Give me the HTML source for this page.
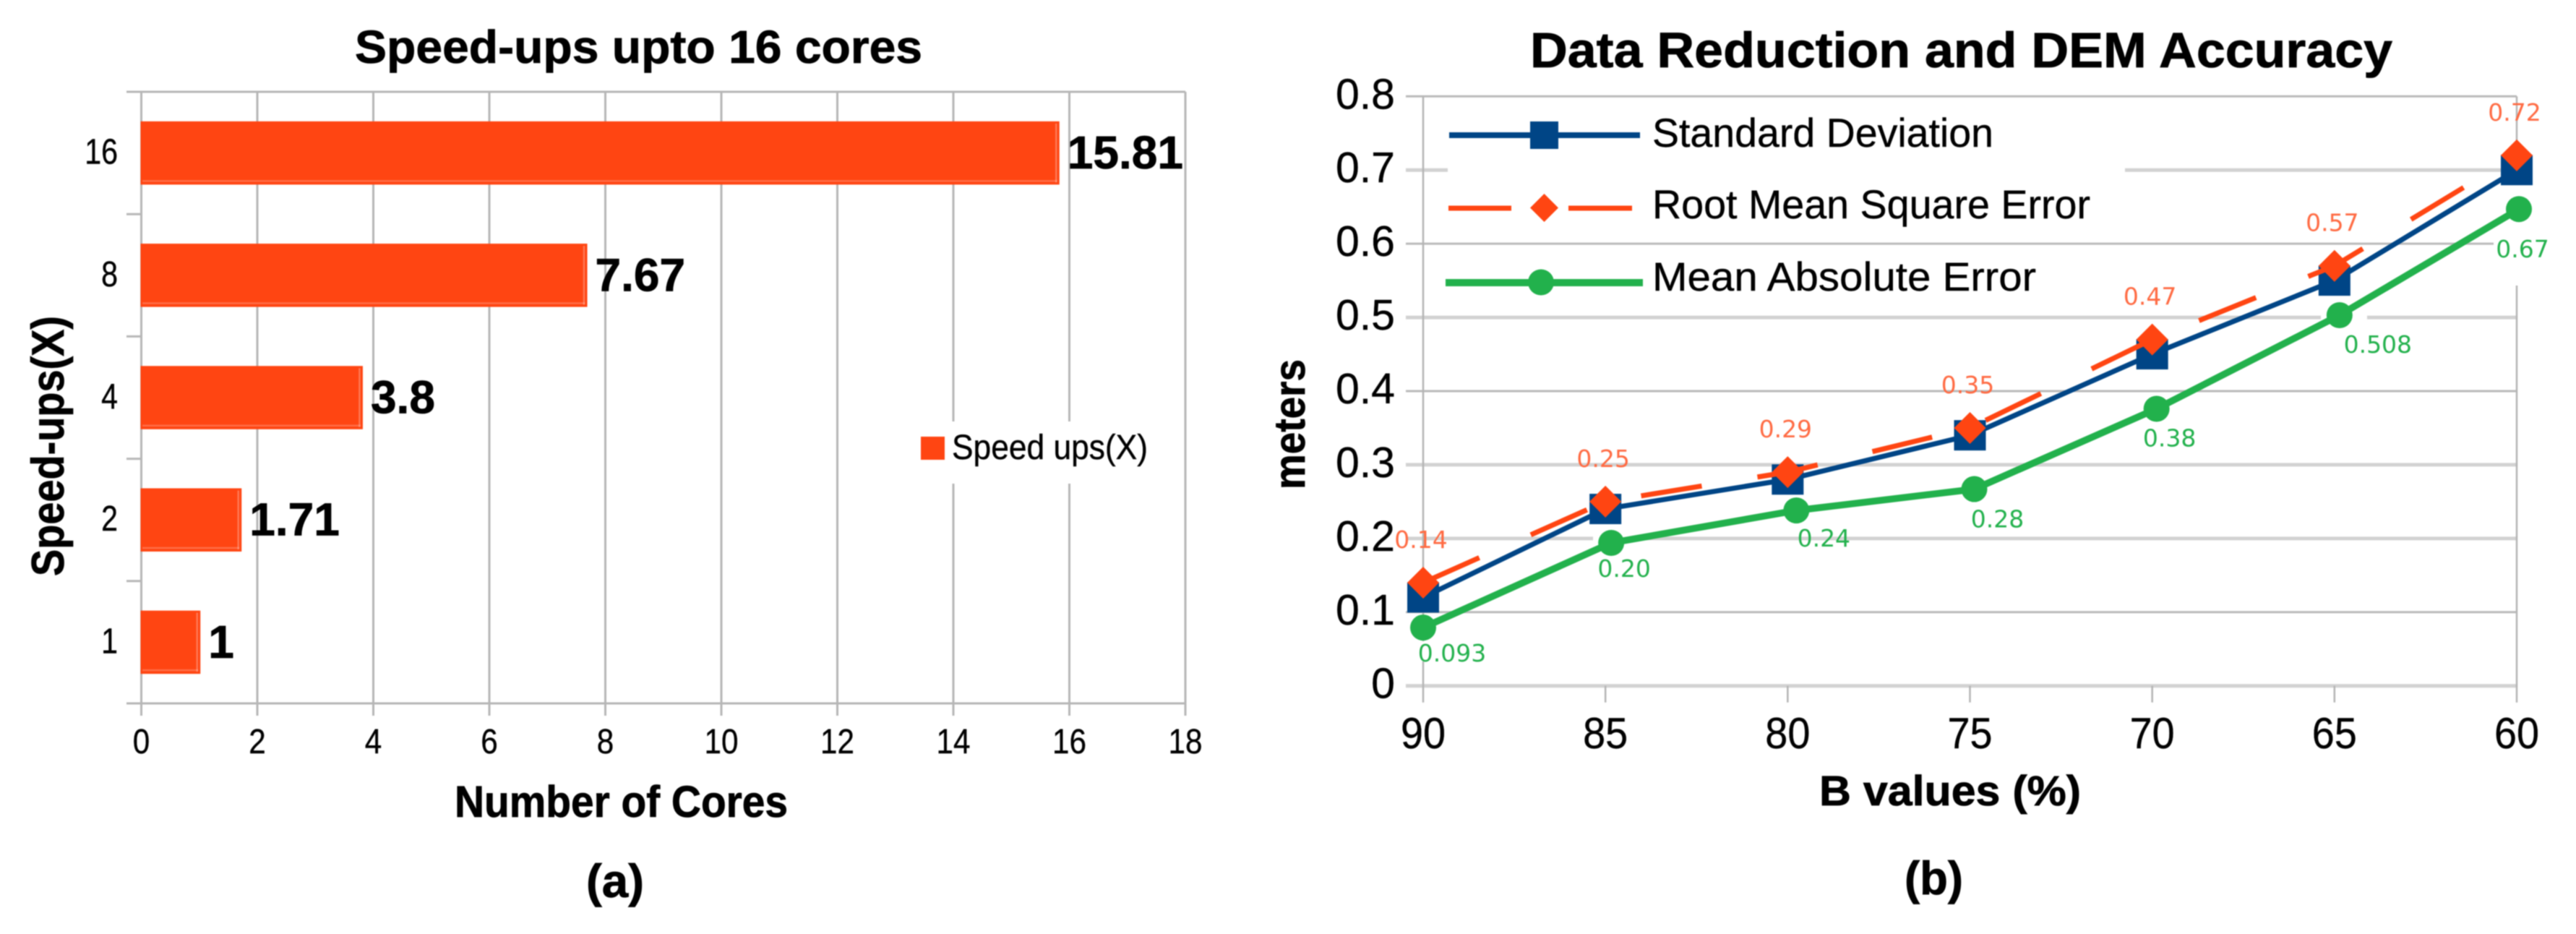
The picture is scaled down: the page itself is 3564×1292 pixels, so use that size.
<!DOCTYPE html>
<html lang="en">
<head>
<meta charset="utf-8">
<title>Speed-ups and DEM accuracy charts</title>
<style>
html,body{margin:0;padding:0;background:#fff;}
svg{display:block;filter:blur(0.8px);}
text{font-family:"Liberation Sans",sans-serif;fill:#000;stroke:#000;stroke-width:0.4px;}
.b{font-weight:700;stroke-width:0.8px;}
.v{font-family:"DejaVu Sans",sans-serif;font-size:33px;stroke:none;}
</style>
</head>
<body>
<svg id="fig" xmlns="http://www.w3.org/2000/svg" width="3564" height="1292" viewBox="0 0 3564 1292">
  <rect width="3564" height="1292" fill="#fff"/>
  <g id="chart-a"></g>
  <g id="chart-b"></g>

  <text class="b" x="491" y="87" font-size="64" textLength="785" lengthAdjust="spacingAndGlyphs">Speed-ups upto 16 cores</text>
  <text class="b" x="629" y="1130" font-size="61" textLength="461" lengthAdjust="spacingAndGlyphs">Number of Cores</text>
  <text class="b" transform="translate(88,797) rotate(-90)" font-size="63" textLength="360" lengthAdjust="spacingAndGlyphs">Speed-ups(X)</text>
  <text class="b" x="811" y="1241" font-size="65" textLength="80" lengthAdjust="spacingAndGlyphs">(a)</text>

  <g>
    <rect x="1274" y="604" width="33" height="32" fill="#ff4512"/>
    <text x="1317" y="635" font-size="48" textLength="271" lengthAdjust="spacingAndGlyphs">Speed ups(X)</text>
  </g>

  <text class="b" x="2117" y="93" font-size="69" textLength="1193" lengthAdjust="spacingAndGlyphs">Data Reduction and DEM Accuracy</text>
  <text class="b" x="2517" y="1114" font-size="58" textLength="362" lengthAdjust="spacingAndGlyphs">B values (%)</text>
  <text class="b" transform="translate(1805,677) rotate(-90)" font-size="60" textLength="180" lengthAdjust="spacingAndGlyphs">meters</text>
  <text class="b" x="2635" y="1237" font-size="65" textLength="81" lengthAdjust="spacingAndGlyphs">(b)</text>

  <g id="legend-b">
    <g>
      <line x1="2005" y1="187" x2="2269" y2="187" stroke="#004586" stroke-width="8"/>
      <rect x="2117" y="168" width="39" height="38" fill="#004586"/>
      <text x="2286" y="203" font-size="56" textLength="472" lengthAdjust="spacingAndGlyphs">Standard Deviation</text>
    </g>
    <g>
      <line x1="2004" y1="288" x2="2091" y2="288" stroke="#ff4512" stroke-width="7"/>
      <line x1="2170" y1="288" x2="2258" y2="288" stroke="#ff4512" stroke-width="7"/>
      <polygon points="2136.5,268 2156,287.5 2136.5,307 2117,287.5" fill="#ff4512"/>
      <text x="2286" y="302" font-size="56" textLength="606" lengthAdjust="spacingAndGlyphs">Root Mean Square Error</text>
    </g>
    <g>
      <line x1="2000" y1="391" x2="2273" y2="391" stroke="#22b14c" stroke-width="10"/>
      <circle cx="2132" cy="390.5" r="18" fill="#22b14c"/>
      <text x="2286" y="402" font-size="56" textLength="531" lengthAdjust="spacingAndGlyphs">Mean Absolute Error</text>
    </g>
  </g>
</svg>

<script>
// Panel (a) data
const coreCategories = ["1", "2", "4", "8", "16"];
const speedups = [1, 1.71, 3.8, 7.67, 15.81];
const speedTicks = [0, 2, 4, 6, 8, 10, 12, 14, 16, 18];

// Panel (b) data
const bValues = ["90", "85", "80", "75", "70", "65", "60"];
const stdDev = [0.12, 0.24, 0.28, 0.34, 0.45, 0.55, 0.70];
const rmse = [0.14, 0.25, 0.29, 0.35, 0.47, 0.57, 0.72];
const mae = [0.079, 0.194, 0.238, 0.267, 0.376, 0.503, 0.647];
const rmseLabels = ["0.14", "0.25", "0.29", "0.35", "0.47", "0.57", "0.72"];
const maeLabels = ["0.093", "0.20", "0.24", "0.28", "0.38", "0.508", "0.67"];
const meterTicks = [0, 0.1, 0.2, 0.3, 0.4, 0.5, 0.6, 0.7, 0.8];

const NS = "http://www.w3.org/2000/svg";
function make(parent, tag, attrs, txt) {
  const el = document.createElementNS(NS, tag);
  for (const k in attrs) el.setAttribute(k, attrs[k]);
  if (txt !== undefined) el.textContent = txt;
  parent.appendChild(el);
  return el;
}

/* ---------- Panel (a) ---------- */
(function () {
  const g = document.getElementById("chart-a");
  const GRID = "#b6b6b6";
  const left = 195.5, right = 1640, top = 127, bottom = 973;
  const maxX = speedTicks[speedTicks.length - 1];
  const xPos = v => left + (v / maxX) * (right - left);
  const band = (bottom - top) / coreCategories.length;
  const yCenter = i => bottom - band * (i + 0.5);

  speedTicks.forEach(t => {
    const el = make(g, "line", {x1: xPos(t), y1: top, x2: xPos(t), y2: 990, stroke: GRID, "stroke-width": 3});
    
    
    const lab = make(g, "text", {transform: "translate(" + xPos(t) + ",1042) scale(0.88,1)", "font-size": 48, "text-anchor": "middle"}, String(t));
    
    
  });
  for (let i = 0; i <= coreCategories.length; i++) {
    const isEdge = i === 0 || i === coreCategories.length;
    const y = bottom - band * i;
    const el = make(g, "line", {x1: 175, y1: y, x2: isEdge ? right : left, y2: y, stroke: GRID, "stroke-width": 3});
    
    
  }

  // legend background breaks the gridlines
  const mask = make(g, "rect", {x: 1165, y: 583, width: 465, height: 86, fill: "#fff"});
  
  

  coreCategories.forEach((c, i) => {
    const cy = yCenter(i);
    const barH = 87.5;
    const barEnd = xPos(speedups[i]) + 1.5;
    const bar = make(g, "rect", {x: 194.5, y: cy - barH / 2, width: barEnd - 194.5, height: barH, fill: "#ff4512"});
    
    
    const edgeR = make(g, "line", {x1: barEnd - 4.5, y1: cy - barH / 2 + 3, x2: barEnd - 4.5, y2: cy + barH / 2 - 3, stroke: "#ffffff", "stroke-opacity": 0.28, "stroke-width": 2.5});
    
    
    const edgeB = make(g, "line", {x1: 197, y1: cy + barH / 2 - 5, x2: barEnd - 3, y2: cy + barH / 2 - 5, stroke: "#ffffff", "stroke-opacity": 0.22, "stroke-width": 2.5});
    
    
    const val = make(g, "text", {class: "b", x: barEnd + 11, y: cy + 21.5, "font-size": 64}, String(speedups[i]));
    
    
    const lab = make(g, "text", {transform: "translate(163," + (cy + 15) + ") scale(0.84,1)", "font-size": 49, "text-anchor": "end"}, c);
    
    
  });
})();

/* ---------- Panel (b) ---------- */
(function () {
  const g = document.getElementById("chart-b");
  const x0 = 1969, x1 = 3482, y0 = 948.7, yTop = 133.3;
  const maxY = meterTicks[meterTicks.length - 1];
  const yPos = v => y0 - (v / maxY) * (y0 - yTop);
  const xPos = i => x0 + i * (x1 - x0) / (bValues.length - 1);

  meterTicks.forEach((t, i) => {
    const soft = i === 0 || i === 2 || i === 3 || i === 5 || i === 7;
    const el = make(g, "line", {x1: 1945, y1: yPos(t), x2: x1, y2: yPos(t), stroke: soft ? "#d2d2d2" : "#bababa", "stroke-width": soft ? 5 : 3});
    
    
    const lab = make(g, "text", {x: 1930, y: yPos(t) + 17, "font-size": 59, "text-anchor": "end"}, String(t));
    
    
  });

  bValues.forEach((b, i) => {
    const isEdge = i === 0 || i === bValues.length - 1;
    const el = make(g, "line", {x1: xPos(i), y1: isEdge ? yTop : y0, x2: xPos(i), y2: 971.7, stroke: "#b4b4b4", "stroke-width": 2.5});
    
    
    const lab = make(g, "text", {transform: "translate(" + xPos(i) + ",1035) scale(0.93,1)", "font-size": 60, "text-anchor": "middle"}, b);
    
    
  });

  // white label and legend backgrounds that break the gridlines
  const breaks = [[2003, 224, 937, 23], [3450, 300, 80, 95], [3474, 240, 20, 60], [3211, 425, 64, 24], [2204, 735, 60, 20], [1958, 887, 20, 28]];
  breaks.forEach((b, i) => {
    const el = make(g, "rect", {x: b[0], y: b[1], width: b[2], height: b[3], fill: "#fff"});
    
    
  });

  const pts = (arr, nudge) => arr.map((v, i) => (xPos(i) + (nudge ? nudge[i] : 0)) + "," + yPos(v)).join(" ");

  // Standard deviation
  const sdLine = make(g, "polyline", {points: pts(stdDev), fill: "none", stroke: "#004586", "stroke-width": 7});
  
  
  stdDev.forEach((v, i) => {
    const m = make(g, "rect", {x: xPos(i) - 22, y: yPos(v) - 21, width: 44, height: 42, fill: "#004586"});
    
    
  });

  // RMSE
  const rmLine = make(g, "polyline", {points: pts(rmse), fill: "none", stroke: "#ff4512", "stroke-width": 7, "stroke-dasharray": "85 78"});
  
  
  rmse.forEach((v, i) => {
    const cx = xPos(i), cy = yPos(v), r = 22;
    const m = make(g, "polygon", {points: cx + "," + (cy - r) + " " + (cx + r) + "," + cy + " " + cx + "," + (cy + r) + " " + (cx - r) + "," + cy, fill: "#ff4512"});
    
    
    const lab = make(g, "text", {class: "v", x: cx - 3, y: cy - 48, "text-anchor": "middle", style: "fill:#ff6a42"}, rmseLabels[i]);
    
    
  });

  // MAE (markers sit slightly off the category ticks in the source; labels are hand placed)
  const maeNudge = [0, 8, 12, 6, 6, 7, 3];
  const labelDx = [40, 18, 38, 32, 18, 53, 5];
  const labelDy = [47, 47, 50, 53, 52, 52, 67];
  const maLine = make(g, "polyline", {points: pts(mae, maeNudge), fill: "none", stroke: "#22b14c", "stroke-width": 9.5});
  
  
  mae.forEach((v, i) => {
    const cx = xPos(i) + maeNudge[i], cy = yPos(v);
    const m = make(g, "circle", {cx: cx, cy: cy, r: 18, fill: "#22b14c"});
    
    
    const lab = make(g, "text", {class: "v", x: cx + labelDx[i], y: cy + labelDy[i], "text-anchor": "middle", style: "fill:#22b14c"}, maeLabels[i]);
    
    
  });
})();
</script>
</body>
</html>
